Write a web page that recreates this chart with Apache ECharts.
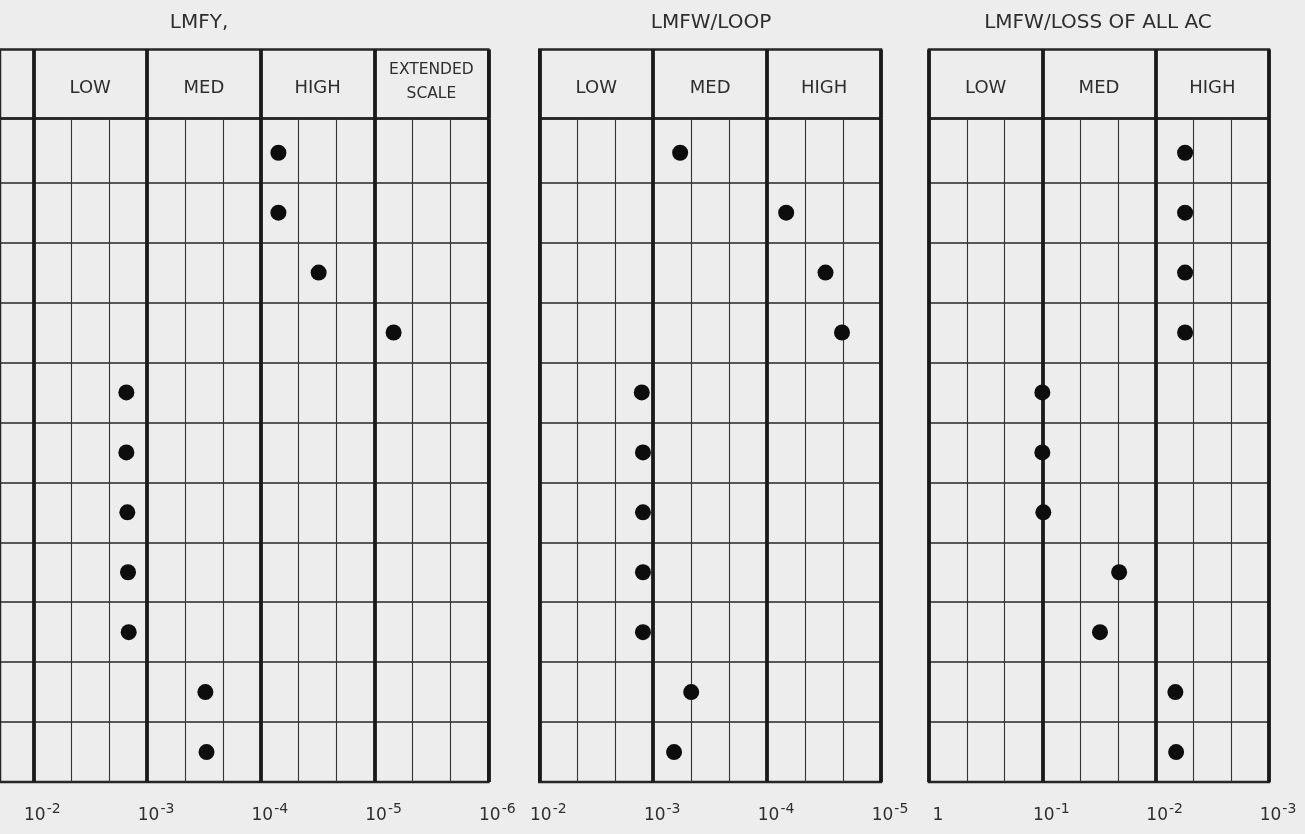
<!DOCTYPE html>
<html>
<head>
<meta charset="utf-8">
<script src="https://cdn.jsdelivr.net/npm/echarts@6/dist/echarts.min.js"></script>
<style>
html,body{margin:0;padding:0;background:#ededed;}
#chart{width:1305px;height:834px;}
</style>
</head>
<body>
<div id="chart"></div>
<script>
// ---- data (frequencies, row order top to bottom) ----
const panelTitles = ['LMFY,', 'LMFW/LOOP', 'LMFW/LOSS OF ALL AC'];

const lmfyBands = ['LOW', 'MED', 'HIGH', 'EXTENDED\nSCALE'];
const loopBands = ['LOW', 'MED', 'HIGH'];
const acBands   = ['LOW', 'MED', 'HIGH'];

// decade tick labels (powers of ten)
const lmfyDecades = [-2, -3, -4, -5, -6];
const loopDecades = [-2, -3, -4, -5];
const acDecades   = [0, -1, -2, -3];

const lmfyValues = [7.0e-5, 7.0e-5, 3.1e-5, 6.8e-6, 1.52e-3, 1.52e-3, 1.49e-3, 1.47e-3, 1.45e-3, 3.07e-4, 3.0e-4];
const loopValues = [5.8e-4, 6.8e-5, 3.07e-5, 2.2e-5, 1.26e-3, 1.23e-3, 1.23e-3, 1.23e-3, 1.23e-3, 4.64e-4, 6.56e-4];
const acValues   = [5.5e-3, 5.5e-3, 5.5e-3, 5.5e-3, 0.1, 0.1, 0.098, 2.1e-2, 3.1e-2, 6.7e-3, 6.6e-3];

// ---- layout ----
const FONT = 'DejaVu Sans';
const TXT = '#2e2e2e';
const LINE = '#262626';
const headTop = 49.5, headH = 69, dataTop = 118.5, dataH = 663.5;
const rowCount = lmfyValues.length;
const firstRowExtra = 0.071;   // the top row of the printed grid is a little taller

const panels = [
  { title: panelTitles[0], titleX: 199, left: 0, width: 488.3, extraLeft: 0.878, decades: lmfyDecades, bands: lmfyBands, values: lmfyValues },
  { title: panelTitles[1], titleX: 711, left: 539.3, width: 341.7, extraLeft: 0, decades: loopDecades, bands: loopBands, values: loopValues },
  { title: panelTitles[2], titleX: 1098, left: 929, width: 340, extraLeft: 0, decades: acDecades, bands: acBands, values: acValues }
];

// axis unit: thirds of a decade, increasing to the right (toward smaller frequency)
const toU = v => -3 * Math.log10(v);

const thickStyle = { type: 'solid', color: '#1a1a1a', width: 3.8 };
const thinVStyle = { type: 'solid', color: '#333333', width: 1.1 };
const thinHStyle = { type: 'solid', color: '#262626', width: 1.6 };

const option = {
  backgroundColor: '#ededed',
  animation: false,
  title: [], grid: [], xAxis: [], yAxis: [], series: []
};

panels.forEach((p, i) => {
  const uLeft = -3 * p.decades[0];
  const uMin = uLeft - p.extraLeft;
  const uMax = -3 * p.decades[p.decades.length - 1];
  const decadeU = p.decades.map(d => -3 * d);
  const thirdU = [];
  for (let u = uLeft; u <= uMax; u++) if (u % 3 !== 0) thirdU.push(u);

  option.title.push({
    text: p.title, left: p.titleX, top: 13, textAlign: 'center', padding: 0,
    textStyle: { fontFamily: FONT, fontSize: 20, fontWeight: 'normal', color: TXT }
  });

  const gh = 2 * i, gd = 2 * i + 1;
  option.grid.push({ left: p.left, top: headTop, width: p.width, height: headH, show: true, borderColor: LINE, borderWidth: 2.5, backgroundColor: 'transparent' });
  option.grid.push({ left: p.left, top: dataTop, width: p.width, height: dataH, show: true, borderColor: LINE, borderWidth: 2.5, backgroundColor: 'transparent' });

  // header axes
  option.xAxis.push({ type: 'value', gridIndex: gh, min: uMin, max: uMax, show: false, splitLine: { show: false } });
  option.yAxis.push({ type: 'value', gridIndex: gh, min: 0, max: 1, inverse: true, show: false, splitLine: { show: false } });
  // data axes
  option.xAxis.push({
    type: 'value', gridIndex: gd, min: uMin, max: uMax,
    axisLine: { show: false }, axisTick: { show: false, customValues: decadeU },
    splitLine: { show: false },
    axisLabel: {
      show: true, margin: 18, padding: [0, 0, 0, 18],
      customValues: decadeU,
      formatter: v => {
        const r = Math.round(v);
        if (Math.abs(v - r) > 1e-6 || r % 3 !== 0) return '';
        const e = -r / 3;
        if (e === 0) return '{b|1}';
        return '{b|10}{s|' + e + '}';
      },
      rich: {
        b: { fontFamily: FONT, fontSize: 17, color: TXT, padding: [7, 0, 0, 0] },
        s: { fontFamily: FONT, fontSize: 14, color: TXT, padding: [0, 0, 6, 1] }
      }
    }
  });
  option.yAxis.push({
    type: 'value', gridIndex: gd, min: -firstRowExtra, max: rowCount, inverse: true,
    axisLine: { show: false }, axisTick: { show: false }, axisLabel: { show: false },
    splitLine: { show: false }
  });

  const rowLines = [];
  for (let r = 1; r < rowCount; r++) rowLines.push({ yAxis: r, lineStyle: thinHStyle });

  // header band labels + decade dividers
  option.series.push({
    type: 'scatter', xAxisIndex: gh, yAxisIndex: gh, symbolSize: 0, silent: true,
    itemStyle: { opacity: 1, color: TXT },
    data: p.bands.map((b, k) => ({
      name: b,
      value: [(decadeU[k] + decadeU[k + 1]) / 2, b.indexOf('\n') >= 0 ? 0.47 : 0.56]
    })),
    label: {
      show: true, position: 'inside', formatter: q => q.name,
      fontFamily: FONT, color: TXT, opacity: 1, fontSize: 18, lineHeight: 24
    },
    markLine: {
      symbol: 'none', silent: true, animation: false, label: { show: false },
      data: decadeU.map(u => ({ xAxis: u, lineStyle: thickStyle }))
    }
  });
  // points + grid lines
  option.series.push({
    type: 'scatter', xAxisIndex: gd, yAxisIndex: gd,
    symbol: 'circle', symbolSize: 16, silent: true,
    itemStyle: { color: '#0d0d0d', opacity: 1 },
    data: p.values.map((v, r) => [toU(v), r + 0.5]),
    markLine: {
      symbol: 'none', silent: true, animation: false, label: { show: false },
      data: rowLines
        .concat(thirdU.map(u => ({ xAxis: u, lineStyle: thinVStyle })))
        .concat(decadeU.map(u => ({ xAxis: u, lineStyle: thickStyle })))
    },
    z: 5
  });
});

// smaller font for the two-line header cell
option.series[0].data[3].label = { fontSize: 15.5, lineHeight: 24, color: TXT };

const chart = echarts.init(document.getElementById('chart'), null, { renderer: 'canvas' });
chart.setOption(option);
</script>
</body>
</html>
